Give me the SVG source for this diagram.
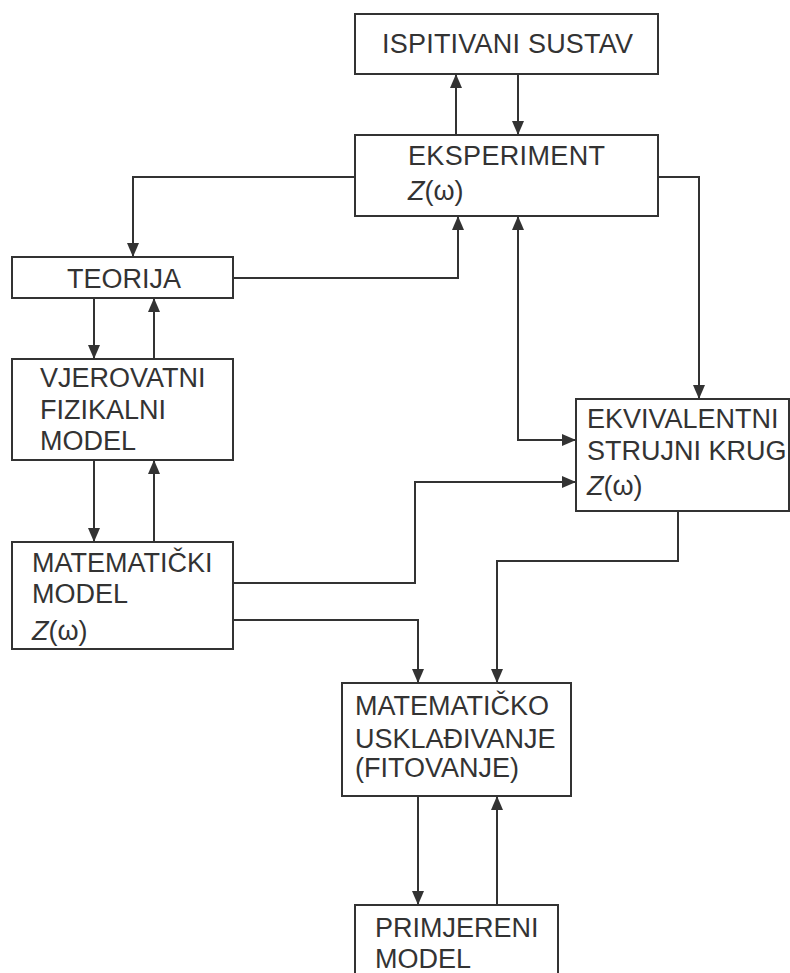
<svg xmlns="http://www.w3.org/2000/svg" width="790" height="973" viewBox="0 0 790 973">
<style>
.box{fill:#fff;stroke:#333;stroke-width:2}
.t{font-family:"Liberation Sans",Arial,sans-serif;font-size:27px;fill:#333}
.c{fill:none;stroke:#333;stroke-width:2}
</style>
<defs>
<marker id="ah" markerUnits="userSpaceOnUse" markerWidth="14" markerHeight="13" refX="14" refY="6.5" orient="auto-start-reverse" viewBox="0 0 14 13">
<path d="M0,0.5 L14,6.5 L0,12.5 z" fill="#333"/>
</marker>
</defs>
<rect width="790" height="973" fill="#fff"/>
<g id="connectors">
<path class="c" d="M456,135 V74" marker-end="url(#ah)"/>
<path class="c" d="M518,74 V135" marker-end="url(#ah)"/>
<path class="c" d="M355,177 H133 V257" marker-end="url(#ah)"/>
<path class="c" d="M233,278 H458 V216" marker-end="url(#ah)"/>
<path class="c" d="M658,177 H699 V399" marker-end="url(#ah)"/>
<path class="c" d="M518,216 V440 H576" marker-start="url(#ah)" marker-end="url(#ah)"/>
<path class="c" d="M94,298 V359" marker-end="url(#ah)"/>
<path class="c" d="M154,359 V298" marker-end="url(#ah)"/>
<path class="c" d="M94,460 V542" marker-end="url(#ah)"/>
<path class="c" d="M154,542 V460" marker-end="url(#ah)"/>
<path class="c" d="M233,583 H415 V482 H576" marker-end="url(#ah)"/>
<path class="c" d="M233,620 H418 V683" marker-end="url(#ah)"/>
<path class="c" d="M678,511 V561 H497 V683" marker-end="url(#ah)"/>
<path class="c" d="M418,796 V905" marker-end="url(#ah)"/>
<path class="c" d="M497,905 V796" marker-end="url(#ah)"/>
</g>
<g id="ispitivani">
<rect class="box" x="355" y="14" width="303" height="60"/>
<text class="t" x="382" y="53" textLength="251">ISPITIVANI SUSTAV</text>
</g>
<g id="eksperiment">
<rect class="box" x="355" y="135" width="303" height="81"/>
<text class="t" x="408" y="165" textLength="197">EKSPERIMENT</text>
<text class="t" x="408" y="200"><tspan font-style="italic">Z</tspan>(ω)</text>
</g>
<g id="teorija">
<rect class="box" x="12" y="257" width="221" height="41"/>
<text class="t" x="67" y="288">TEORIJA</text>
</g>
<g id="vjerovatni">
<rect class="box" x="12" y="359" width="221" height="101"/>
<text class="t" x="40" y="387">VJEROVATNI</text>
<text class="t" x="40" y="419">FIZIKALNI</text>
<text class="t" x="40" y="450">MODEL</text>
</g>
<g id="matematicki">
<rect class="box" x="12" y="542" width="221" height="107"/>
<text class="t" x="32" y="572">MATEMATIČKI</text>
<text class="t" x="32" y="603">MODEL</text>
<text class="t" x="32" y="640"><tspan font-style="italic">Z</tspan>(ω)</text>
</g>
<g id="ekvivalentni">
<rect class="box" x="576" y="399" width="213" height="112"/>
<text class="t" x="587" y="428">EKVIVALENTNI</text>
<text class="t" x="587" y="460">STRUJNI KRUG</text>
<text class="t" x="587" y="495"><tspan font-style="italic">Z</tspan>(ω)</text>
</g>
<g id="matematicko">
<rect class="box" x="342" y="683" width="229" height="113"/>
<text class="t" x="355" y="715">MATEMATIČKO</text>
<text class="t" x="355" y="748">USKLAĐIVANJE</text>
<text class="t" x="355" y="777">(FITOVANJE)</text>
</g>
<g id="primjereni">
<rect class="box" x="355" y="905" width="203" height="80"/>
<text class="t" x="375" y="937">PRIMJERENI</text>
<text class="t" x="375" y="968">MODEL</text>
</g>
</svg>
